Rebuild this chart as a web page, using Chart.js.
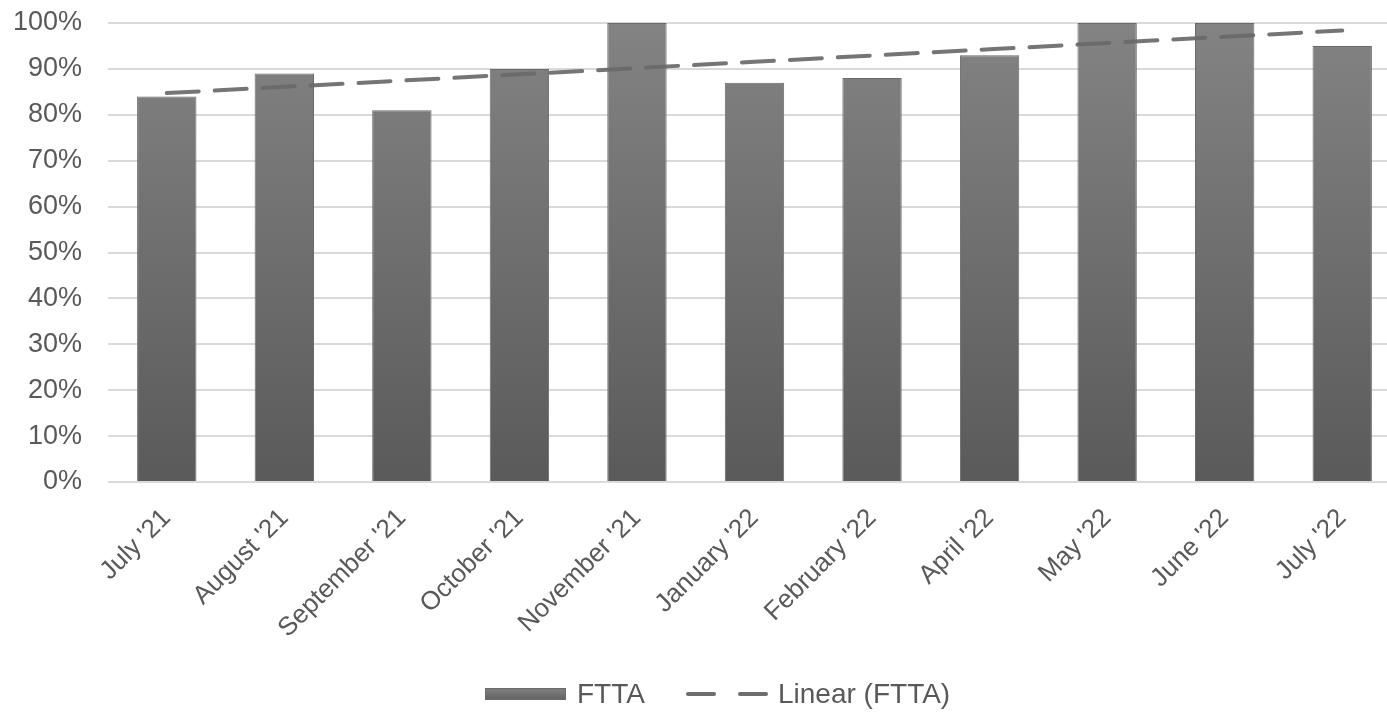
<!DOCTYPE html>
<html>
<head>
<meta charset="utf-8">
<script src="https://cdn.jsdelivr.net/npm/chart.js@4/dist/chart.umd.min.js"></script>
<style>
  html, body { margin: 0; padding: 0; background: #ffffff; overflow: hidden; }
  #wrap { position: relative; width: 1402px; height: 713px; }
  #chart { display: block; }
  .legend { position: absolute; top: 676px; height: 36px; font-family: "Liberation Sans", Arial, sans-serif;
            font-size: 28px; color: #595959; line-height: 36px; white-space: nowrap; }
  .swatch { position: absolute; }
</style>
</head>
<body>
<div id="wrap">
  <canvas id="chart" width="1402" height="713"></canvas>
  <div class="swatch" style="left:485px;top:688px;width:81px;height:12px;background:linear-gradient(#7e7e7e,#656565);border:1px solid #6a6a6a;box-sizing:border-box;"></div>
  <div class="legend" style="left:577px;">FTTA</div>
  <div class="swatch" style="left:686px;top:692px;width:30px;height:4px;border-radius:2px;background:#6e6e6e;"></div>
  <div class="swatch" style="left:738px;top:692px;width:30px;height:4px;border-radius:2px;background:#6e6e6e;"></div>
  <div class="legend" style="left:778px;">Linear (FTTA)</div>
</div>
<script>
// Monthly FTTA rate, percent
const months = ["July '21", "August '21", "September '21", "October '21", "November '21",
                "January '22", "February '22", "April '22", "May '22", "June '22", "July '22"];
const fttaValues = [84, 89, 81, 90, 100, 87, 88, 93, 100, 100, 95];
const yTicks = [0, 10, 20, 30, 40, 50, 60, 70, 80, 90, 100];

// Least-squares linear trend over the FTTA series
function linearTrend(values) {
  const n = values.length;
  let sx = 0, sy = 0, sxy = 0, sxx = 0;
  values.forEach((v, i) => { const x = i + 1; sx += x; sy += v; sxy += x * v; sxx += x * x; });
  const slope = (n * sxy - sx * sy) / (n * sxx - sx * sx);
  const icpt = (sy - slope * sx) / n;
  return values.map((_, i) => icpt + slope * (i + 1));
}
const trendValues = linearTrend(fttaValues);

const family = '"Liberation Sans", Arial, sans-serif';
const textColor = '#595959';

function barFill(ctx) {
  const area = ctx.chart.chartArea;
  if (!area) return '#707070';
  const g = ctx.chart.ctx.createLinearGradient(0, area.top, 0, area.bottom);
  g.addColorStop(0, '#838383');
  g.addColorStop(1, '#5a5a5a');
  return g;
}

new Chart(document.getElementById('chart'), {
  data: {
    labels: months,
    datasets: [
      {
        type: 'line',
        label: 'Linear (FTTA)',
        data: trendValues,
        borderColor: 'rgba(105,105,105,0.92)',
        borderWidth: 4,
        borderDash: [32, 16],
        borderCapStyle: 'round',
        pointRadius: 0,
        fill: false,
        order: 0
      },
      {
        type: 'bar',
        label: 'FTTA',
        data: fttaValues,
        backgroundColor: barFill,
        borderColor: '#6a6a6a',
        borderWidth: 1,
        barPercentage: 0.505,
        categoryPercentage: 1.0,
        order: 1
      }
    ]
  },
  options: {
    responsive: false,
    animation: false,
    layout: { padding: { top: 23, right: 1, left: 0, bottom: 0 } },
    plugins: { legend: { display: false }, tooltip: { enabled: false } },
    scales: {
      x: {
        grid: { display: false },
        border: { display: false },
        ticks: { color: textColor, font: { family: family, size: 26 }, minRotation: 45, maxRotation: 45, padding: 13, autoSkip: false },
        afterFit(scale) { scale.height = 231; scale.paddingLeft = 0; scale.paddingRight = 0; scale.paddingTop = 0; scale.paddingBottom = 0; }
      },
      y: {
        min: 0, max: 100,
        afterBuildTicks(scale) { scale.ticks = yTicks.map(v => ({ value: v })); },
        grid: { color: '#dadada', lineWidth: 2, drawTicks: false },
        border: { display: false },
        ticks: { color: textColor, font: { family: family, size: 27 }, padding: 26, callback: v => v + '%' },
        afterFit(scale) { scale.width = 108; scale.paddingTop = 0; scale.paddingBottom = 0; scale.paddingLeft = 0; scale.paddingRight = 0; }
      }
    }
  }
});
</script>
</body>
</html>
